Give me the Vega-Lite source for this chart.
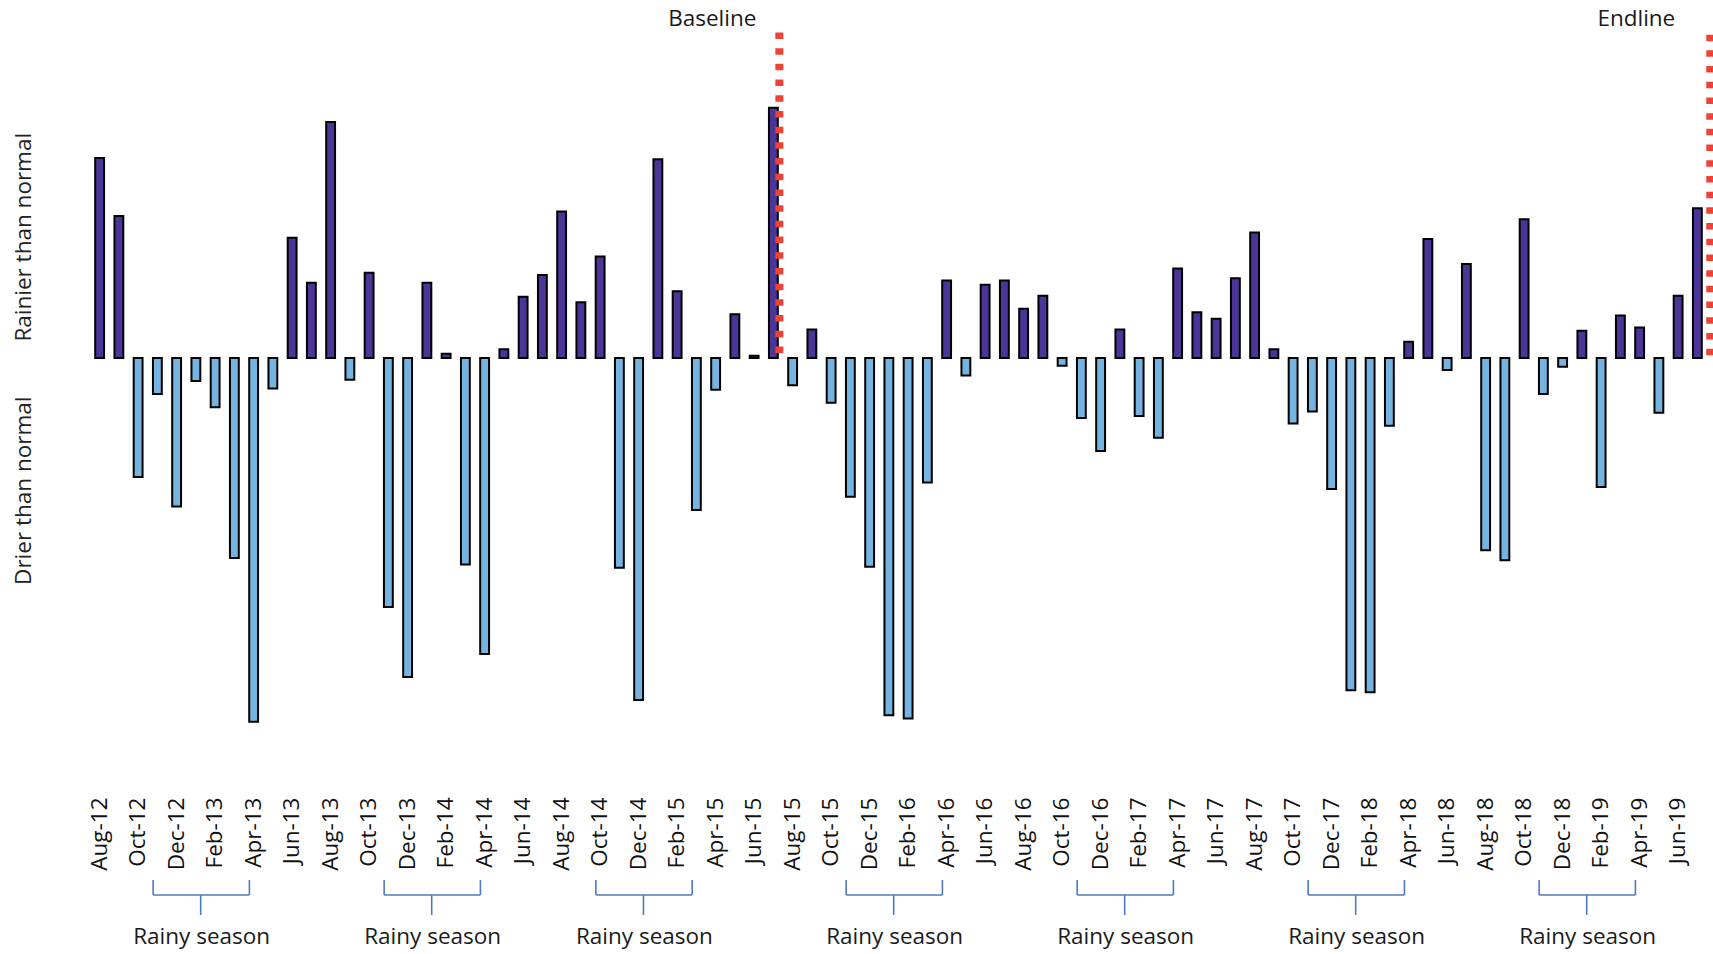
{
  "$schema": "https://vega.github.io/schema/vega-lite/v6.json",
  "width": 1617,
  "height": 790,
  "autosize": {"type": "none"},
  "padding": {"left": 90, "top": 0, "right": 6, "bottom": 164},
  "background": "white",
  "config": {"view": {"stroke": null}, "font": "Open Sans"},
  "datasets": {
    "rain": [
      {"month": "Aug-12", "value": 183}, {"month": "Sep-12", "value": 130}, {"month": "Oct-12", "value": -109}, {"month": "Nov-12", "value": -33}, {"month": "Dec-12", "value": -136},
      {"month": "Jan-13", "value": -21}, {"month": "Feb-13", "value": -45}, {"month": "Mar-13", "value": -183}, {"month": "Apr-13", "value": -333}, {"month": "May-13", "value": -28}, {"month": "Jun-13", "value": 110},
      {"month": "Jul-13", "value": 69}, {"month": "Aug-13", "value": 216}, {"month": "Sep-13", "value": -20}, {"month": "Oct-13", "value": 78}, {"month": "Nov-13", "value": -228}, {"month": "Dec-13", "value": -292},
      {"month": "Jan-14", "value": 69}, {"month": "Feb-14", "value": 4}, {"month": "Mar-14", "value": -189}, {"month": "Apr-14", "value": -271}, {"month": "May-14", "value": 8}, {"month": "Jun-14", "value": 56},
      {"month": "Jul-14", "value": 76}, {"month": "Aug-14", "value": 134}, {"month": "Sep-14", "value": 51}, {"month": "Oct-14", "value": 93}, {"month": "Nov-14", "value": -192}, {"month": "Dec-14", "value": -313},
      {"month": "Jan-15", "value": 182}, {"month": "Feb-15", "value": 61}, {"month": "Mar-15", "value": -139}, {"month": "Apr-15", "value": -29}, {"month": "May-15", "value": 40}, {"month": "Jun-15", "value": 2},
      {"month": "Jul-15", "value": 229}, {"month": "Aug-15", "value": -25}, {"month": "Sep-15", "value": 26}, {"month": "Oct-15", "value": -41}, {"month": "Nov-15", "value": -127}, {"month": "Dec-15", "value": -191},
      {"month": "Jan-16", "value": -327}, {"month": "Feb-16", "value": -330}, {"month": "Mar-16", "value": -114}, {"month": "Apr-16", "value": 71}, {"month": "May-16", "value": -16}, {"month": "Jun-16", "value": 67},
      {"month": "Jul-16", "value": 71}, {"month": "Aug-16", "value": 45}, {"month": "Sep-16", "value": 57}, {"month": "Oct-16", "value": -7}, {"month": "Nov-16", "value": -55}, {"month": "Dec-16", "value": -85},
      {"month": "Jan-17", "value": 26}, {"month": "Feb-17", "value": -53}, {"month": "Mar-17", "value": -73}, {"month": "Apr-17", "value": 82}, {"month": "May-17", "value": 42}, {"month": "Jun-17", "value": 36},
      {"month": "Jul-17", "value": 73}, {"month": "Aug-17", "value": 115}, {"month": "Sep-17", "value": 8}, {"month": "Oct-17", "value": -60}, {"month": "Nov-17", "value": -49}, {"month": "Dec-17", "value": -120},
      {"month": "Jan-18", "value": -304}, {"month": "Feb-18", "value": -306}, {"month": "Mar-18", "value": -62}, {"month": "Apr-18", "value": 15}, {"month": "May-18", "value": 109}, {"month": "Jun-18", "value": -11},
      {"month": "Jul-18", "value": 86}, {"month": "Aug-18", "value": -176}, {"month": "Sep-18", "value": -185}, {"month": "Oct-18", "value": 127}, {"month": "Nov-18", "value": -33}, {"month": "Dec-18", "value": -8},
      {"month": "Jan-19", "value": 25}, {"month": "Feb-19", "value": -118}, {"month": "Mar-19", "value": 39}, {"month": "Apr-19", "value": 28}, {"month": "May-19", "value": -50}, {"month": "Jun-19", "value": 57},
      {"month": "Jul-19", "value": 137}
    ],
    "seasons": [
      {"start": "Nov-12", "end": "Apr-13", "mid": "Jan-13", "label": "Rainy season"},
      {"start": "Nov-13", "end": "Apr-14", "mid": "Jan-14", "label": "Rainy season"},
      {"start": "Oct-14", "end": "Mar-15", "mid": "Dec-14", "label": "Rainy season"},
      {"start": "Nov-15", "end": "Apr-16", "mid": "Jan-16", "label": "Rainy season"},
      {"start": "Nov-16", "end": "Apr-17", "mid": "Jan-17", "label": "Rainy season"},
      {"start": "Nov-17", "end": "Apr-18", "mid": "Jan-18", "label": "Rainy season"},
      {"start": "Nov-18", "end": "Apr-19", "mid": "Jan-19", "label": "Rainy season"}
    ],
    "baseline": [{"month": "Jul-15", "label": "Baseline"}],
    "endline": [{"month": "Jul-19", "label": "Endline"}]
  },
  "encoding": {
    "x": {
      "field": "month",
      "type": "nominal",
      "sort": null,
      "scale": {
        "type": "band",
        "paddingInner": 0,
        "paddingOuter": 0,
        "domain": ["Aug-12","Sep-12","Oct-12","Nov-12","Dec-12","Jan-13","Feb-13","Mar-13","Apr-13","May-13","Jun-13","Jul-13","Aug-13","Sep-13","Oct-13","Nov-13","Dec-13","Jan-14","Feb-14","Mar-14","Apr-14","May-14","Jun-14","Jul-14","Aug-14","Sep-14","Oct-14","Nov-14","Dec-14","Jan-15","Feb-15","Mar-15","Apr-15","May-15","Jun-15","Jul-15","Aug-15","Sep-15","Oct-15","Nov-15","Dec-15","Jan-16","Feb-16","Mar-16","Apr-16","May-16","Jun-16","Jul-16","Aug-16","Sep-16","Oct-16","Nov-16","Dec-16","Jan-17","Feb-17","Mar-17","Apr-17","May-17","Jun-17","Jul-17","Aug-17","Sep-17","Oct-17","Nov-17","Dec-17","Jan-18","Feb-18","Mar-18","Apr-18","May-18","Jun-18","Jul-18","Aug-18","Sep-18","Oct-18","Nov-18","Dec-18","Jan-19","Feb-19","Mar-19","Apr-19","May-19","Jun-19","Jul-19"]
      },
      "axis": {
        "title": null,
        "domain": false,
        "ticks": false,
        "grid": false,
        "labelAngle": -90,
        "labelAlign": "right",
        "labelBaseline": "middle",
        "labelPadding": 7,
        "labelFont": "Open Sans",
        "labelFontSize": 22.5,
        "labelColor": "#111111",
        "labelLimit": 0,
        "values": ["Aug-12","Oct-12","Dec-12","Feb-13","Apr-13","Jun-13","Aug-13","Oct-13","Dec-13","Feb-14","Apr-14","Jun-14","Aug-14","Oct-14","Dec-14","Feb-15","Apr-15","Jun-15","Aug-15","Oct-15","Dec-15","Feb-16","Apr-16","Jun-16","Aug-16","Oct-16","Dec-16","Feb-17","Apr-17","Jun-17","Aug-17","Oct-17","Dec-17","Feb-18","Apr-18","Jun-18","Aug-18","Oct-18","Dec-18","Feb-19","Apr-19","Jun-19"]
      }
    }
  },
  "layer": [
    {
      "data": {"name": "rain"},
      "mark": {"type": "bar", "stroke": "#000000", "strokeWidth": 2, "width": {"band": 0.46}},
      "encoding": {
        "y": {
          "field": "value",
          "type": "quantitative",
          "scale": {"domain": [-395.4, 327.7], "nice": false, "zero": false},
          "axis": {
            "title": null,
            "domain": false,
            "ticks": false,
            "grid": false,
            "values": [111, -121],
            "labelExpr": "datum.value > 0 ? 'Rainier than normal' : 'Drier than normal'",
            "labelAngle": -90,
            "labelAlign": "center",
            "labelBaseline": "alphabetic",
            "labelPadding": 60,
            "labelFont": "Open Sans",
            "labelFontSize": 22.5,
            "labelColor": "#222222",
            "labelLimit": 0
          }
        },
        "color": {
          "condition": {"test": "datum.value > 0", "value": "#4B3596"},
          "value": "#75B4E0"
        }
      }
    },
    {
      "mark": {"type": "rule", "stroke": "#000000", "strokeWidth": 2.5},
      "encoding": {"y": {"datum": 0, "type": "quantitative"}}
    },
    {
      "data": {"name": "baseline"},
      "layer": [
        {
          "mark": {"type": "rule", "stroke": "#EF4136", "strokeWidth": 8, "strokeDash": [6.5, 9.2]},
          "encoding": {
            "x": {"field": "month", "type": "nominal", "bandPosition": 0.81},
            "y": {"datum": 298, "type": "quantitative"},
            "y2": {"datum": 0}
          }
        },
        {
          "mark": {"type": "text", "align": "right", "baseline": "middle", "dx": -23, "fontSize": 22.5, "font": "Open Sans", "color": "#1a1a1a"},
          "encoding": {
            "x": {"field": "month", "type": "nominal", "bandPosition": 0.81},
            "y": {"datum": 310.7, "type": "quantitative"},
            "text": {"field": "label"}
          }
        }
      ]
    },
    {
      "data": {"name": "endline"},
      "layer": [
        {
          "mark": {"type": "rule", "stroke": "#EF4136", "strokeWidth": 8, "strokeDash": [6.5, 9.2]},
          "encoding": {
            "x": {"field": "month", "type": "nominal", "bandPosition": 1.17},
            "y": {"datum": 296, "type": "quantitative"},
            "y2": {"datum": 0}
          }
        },
        {
          "mark": {"type": "text", "align": "right", "baseline": "middle", "dx": -35, "fontSize": 22.5, "font": "Open Sans", "color": "#1a1a1a"},
          "encoding": {
            "x": {"field": "month", "type": "nominal", "bandPosition": 1.17},
            "y": {"datum": 310.7, "type": "quantitative"},
            "text": {"field": "label"}
          }
        }
      ]
    },
    {
      "data": {"name": "seasons"},
      "layer": [
        {
          "mark": {"type": "rule", "stroke": "#4F78C6", "strokeWidth": 1.6},
          "encoding": {
            "x": {"field": "start", "type": "nominal", "bandPosition": 0.28},
            "x2": {"field": "end", "bandPosition": 0.28},
            "y": {"datum": -491.5, "type": "quantitative"}
          }
        },
        {
          "mark": {"type": "rule", "stroke": "#4F78C6", "strokeWidth": 1.6},
          "encoding": {
            "x": {"field": "start", "type": "nominal", "bandPosition": 0.28},
            "y": {"datum": -477.8, "type": "quantitative"},
            "y2": {"datum": -491.5}
          }
        },
        {
          "mark": {"type": "rule", "stroke": "#4F78C6", "strokeWidth": 1.6},
          "encoding": {
            "x": {"field": "end", "type": "nominal", "bandPosition": 0.28},
            "y": {"datum": -477.8, "type": "quantitative"},
            "y2": {"datum": -491.5}
          }
        },
        {
          "mark": {"type": "rule", "stroke": "#4F78C6", "strokeWidth": 1.6},
          "encoding": {
            "x": {"field": "mid", "type": "nominal", "bandPosition": 0.75},
            "y": {"datum": -491.5, "type": "quantitative"},
            "y2": {"datum": -509.8}
          }
        },
        {
          "mark": {"type": "text", "align": "center", "baseline": "middle", "fontSize": 22.5, "font": "Open Sans", "color": "#1a1a1a"},
          "encoding": {
            "x": {"field": "mid", "type": "nominal", "bandPosition": 0.8},
            "y": {"datum": -530, "type": "quantitative"},
            "text": {"field": "label"}
          }
        }
      ]
    }
  ]
}
